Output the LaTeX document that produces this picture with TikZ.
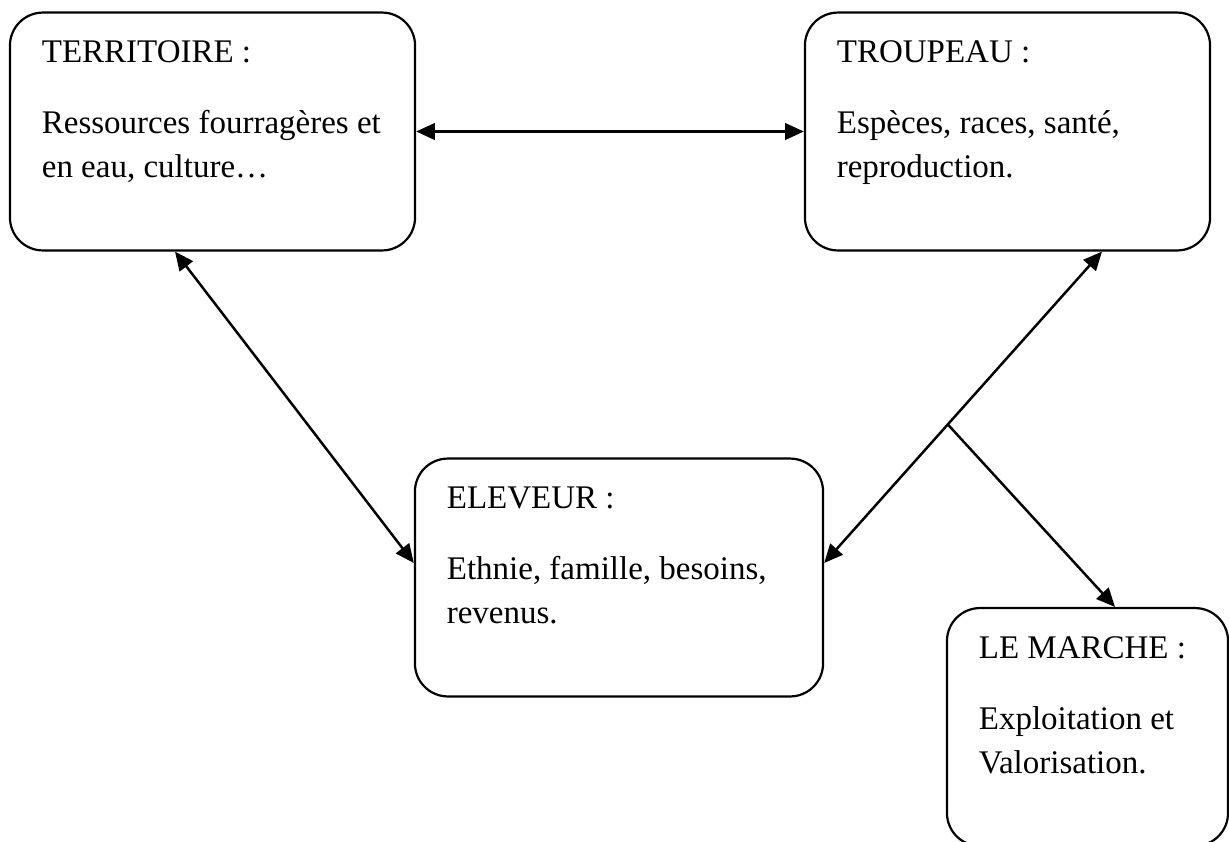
\documentclass[tikz,border=0pt]{standalone}
\usepackage{fontspec}
\setmainfont{Liberation Serif}
\usetikzlibrary{arrows.meta}
\tikzstyle{bloc} = [rectangle,rounded corners=12pt,draw=black,line width=0.8pt,inner sep=0pt,minimum height=86.5pt]
\tikzstyle{arrow} = [line width=0.9pt,->,>={Triangle[length=6.8pt,width=6pt]}]
\newcommand{\contenu}[4]{\parbox[c][86.5pt][t]{#1}{\fontsize{12}{16}\selectfont\leftskip=11.6pt\vspace*{7pt}\strut #2\par\vspace{9.8pt}#3\\#4}}

\begin{document}
\begin{tikzpicture}[x=0.3636pt,y=-0.3636pt]
\useasboundingbox (0,0) rectangle (1229,841);

\node(terr) [bloc] at (212.5,131.5) {\contenu{147.3pt}{TERRITOIRE :}{Ressources fourragères et}{en eau, culture…}};
\node(troup) [bloc] at (1007.5,131.5) {\contenu{147.3pt}{TROUPEAU :}{Espèces, races, santé,}{reproduction.}};
\node(elev) [bloc] at (619,577.5) {\contenu{148.4pt}{ELEVEUR :}{Ethnie, famille, besoins,}{revenus.}};
% coupe en bas et a droite
\node(marche) [bloc] at (1087.5,727) {\contenu{102.2pt}{LE MARCHE :}{Exploitation et}{Valorisation.}};

\draw [arrow,<->] (terr) -- (troup);
\draw [arrow,<->] ([shift={(-37.5,0)}]terr.south) -- ([shift={(0,-14.5)}]elev.west);
\draw [arrow,<->] ([shift={(94.5,0)}]troup.south) -- coordinate[pos=0.555] (embr) ([shift={(0,-14.5)}]elev.east);
\draw [arrow] (embr) -- ([shift={(27.5,0)}]marche.north);

\end{tikzpicture}
\end{document}
